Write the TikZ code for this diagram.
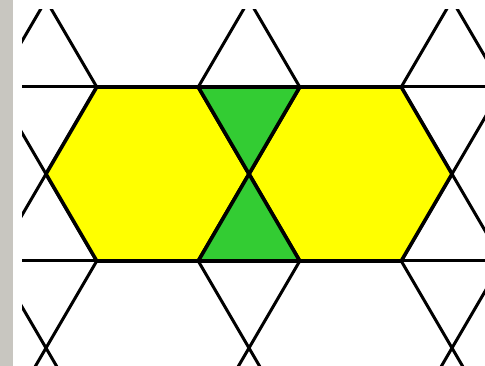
\documentclass[tikz,border=0pt]{standalone}
\definecolor{stripgray}{RGB}{200,198,192}
\definecolor{hexyellow}{RGB}{255,255,0}
\definecolor{trigreen}{RGB}{51,204,51}
\tikzset{
  lattice/.style={line width=3pt, black, line cap=butt},
  hexface/.style={fill=hexyellow, draw=black, line width=3.6pt, line join=miter},
  triface/.style={fill=trigreen, draw=black, line width=3.6pt, line join=miter}
}
\begin{document}
\begin{tikzpicture}[x=1pt,y=-1pt]
\useasboundingbox (0,0) rectangle (485,366);
\fill[white] (0,0) rectangle (485,366);
\fill[stripgray] (0,0) rectangle (13,366);
\def\ha{50.75}
\begin{scope}
\clip (22,10) rectangle (485,366);
% horizontal lines
\draw[lattice] (0,87) -- (485,87);
\draw[lattice] (0,261) -- (485,261);
% diagonal X pattern at each triangle column
\foreach \xt in {46,249,452}{
  \foreach \yc in {0,174,348}{
    \draw[lattice] (\xt-\ha,\yc-87) -- (\xt+\ha,\yc+87);
    \draw[lattice] (\xt+\ha,\yc-87) -- (\xt-\ha,\yc+87);
  }
}
% yellow hexagons
\foreach \xh in {147.5,350.5}{
  \draw[hexface] (\xh-\ha,87) -- (\xh+\ha,87) -- (\xh+2*\ha,174) -- (\xh+\ha,261)
     -- (\xh-\ha,261) -- (\xh-2*\ha,174) -- cycle;
}
% green triangles
\draw[triface] (249-\ha,87) -- (249+\ha,87) -- (249,174) -- cycle;
\draw[triface] (249,174) -- (249+\ha,261) -- (249-\ha,261) -- cycle;
\end{scope}
\end{tikzpicture}
\end{document}
